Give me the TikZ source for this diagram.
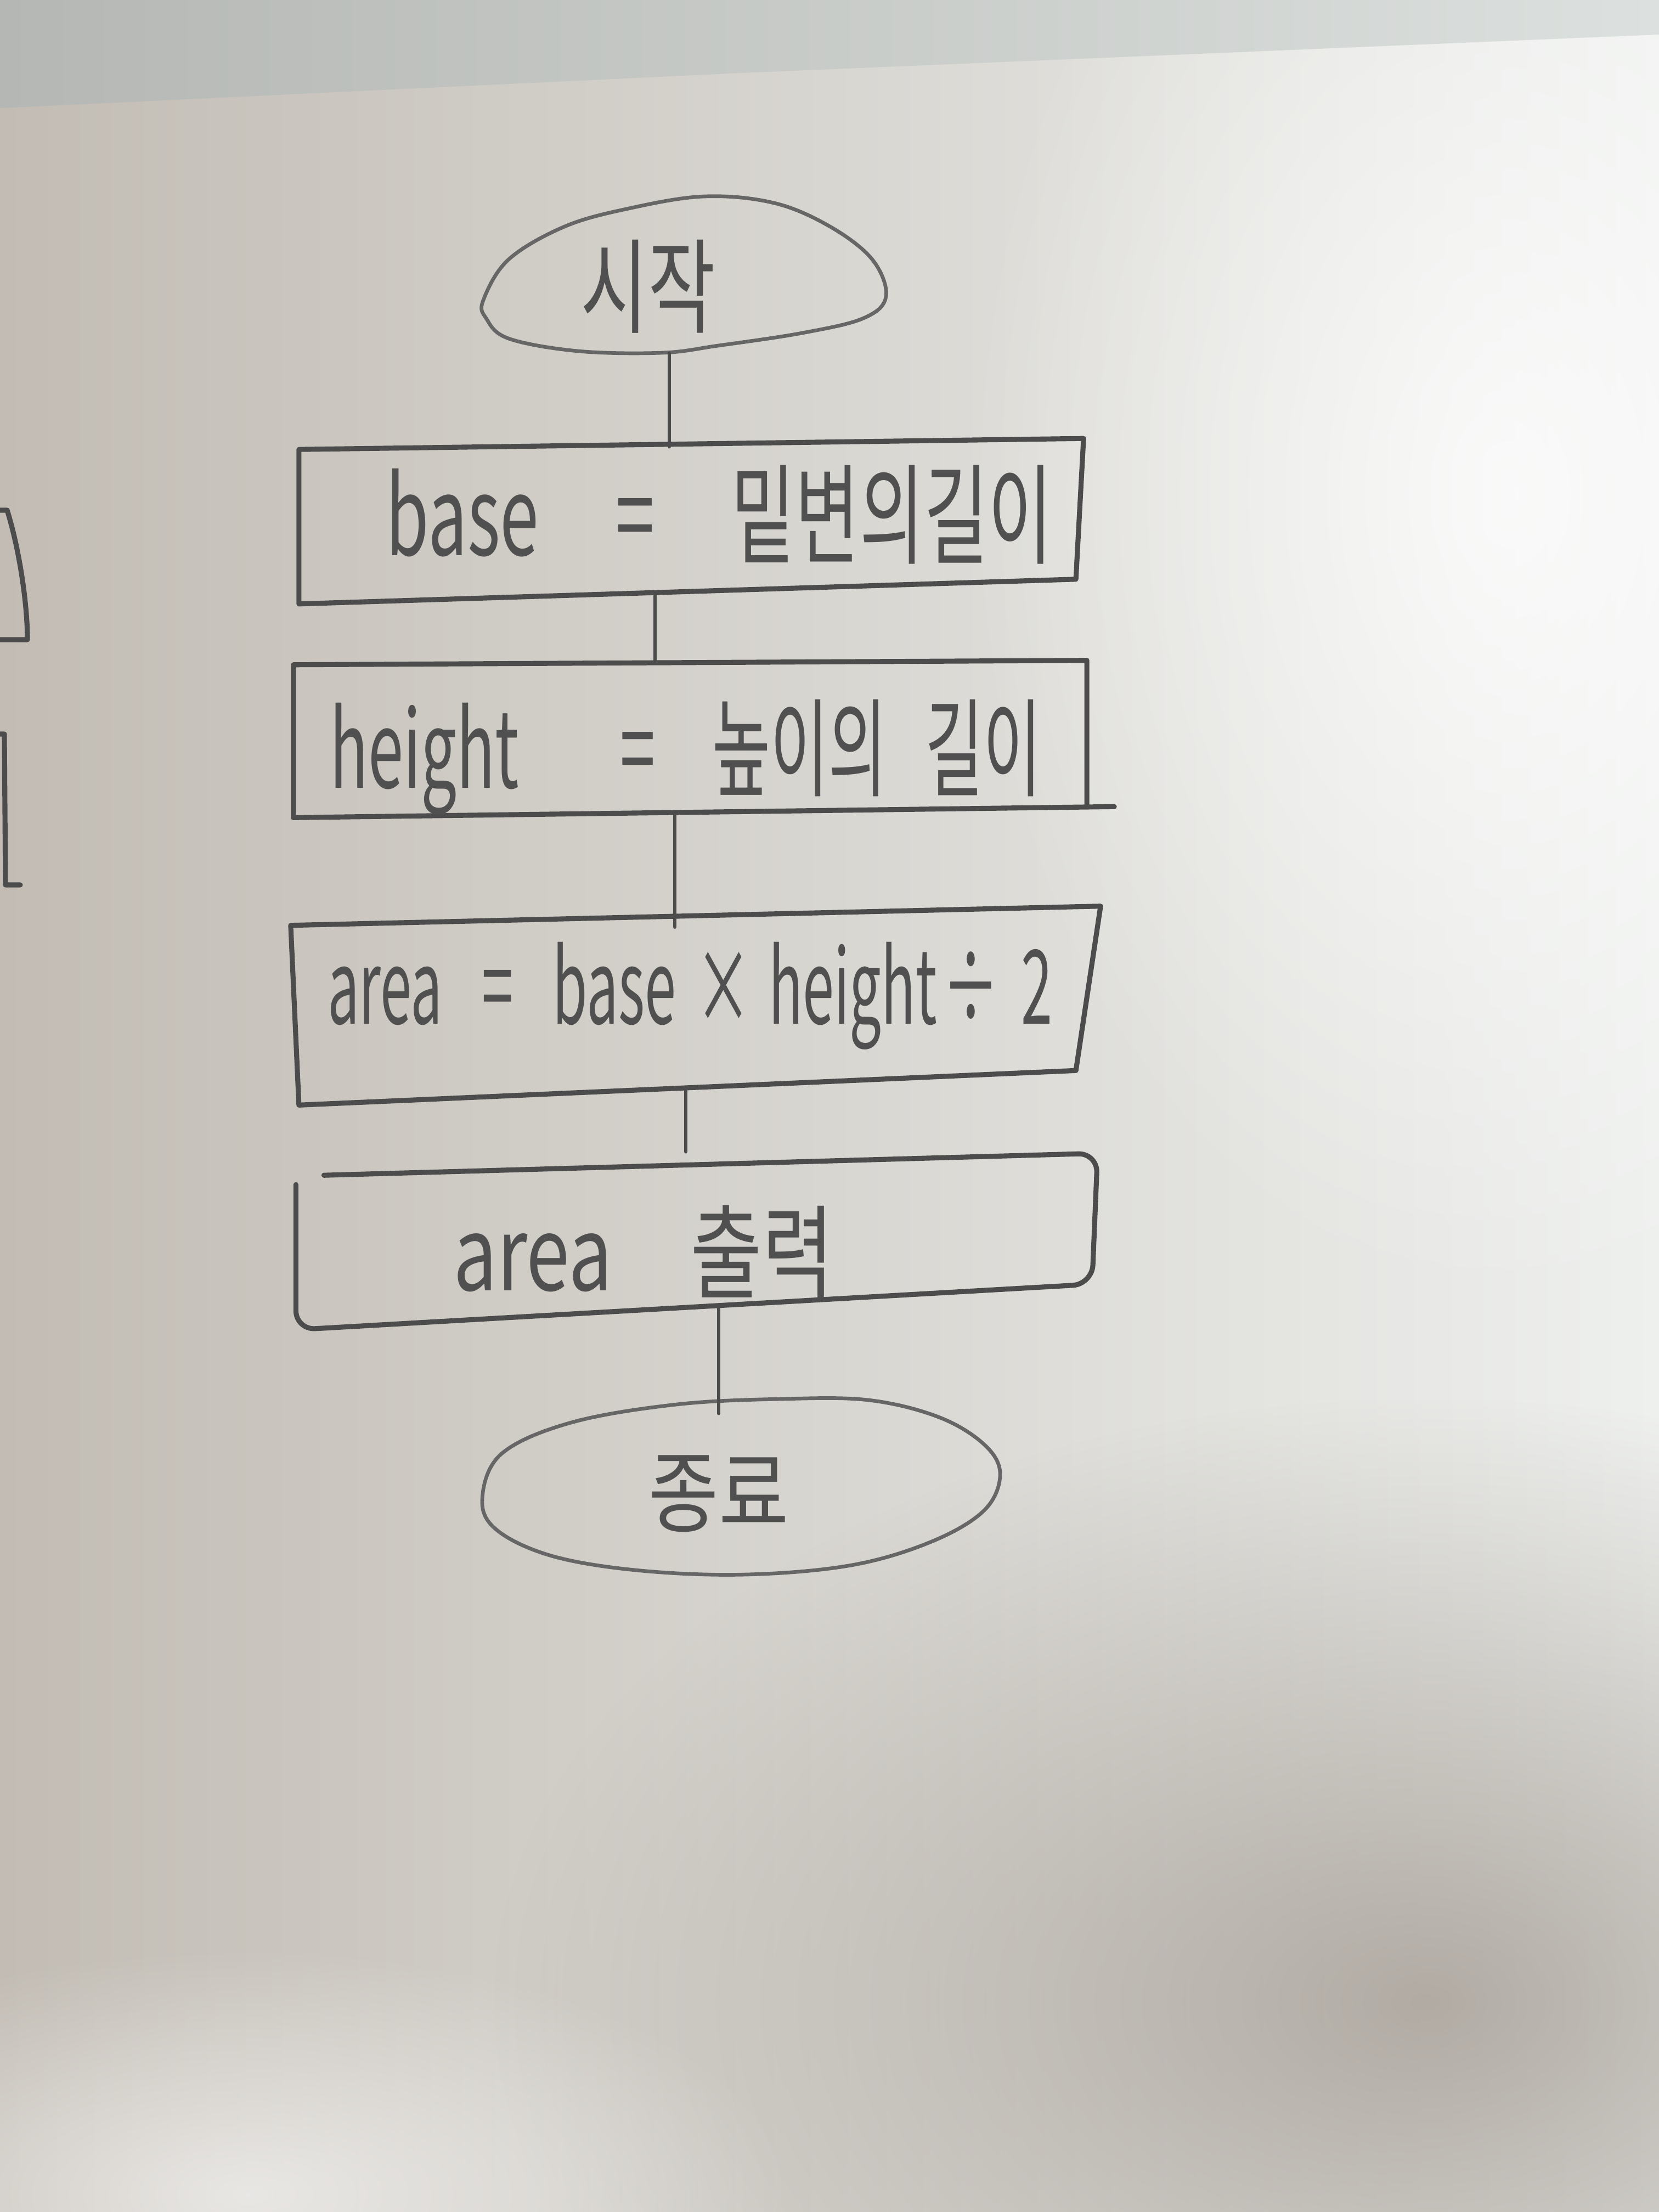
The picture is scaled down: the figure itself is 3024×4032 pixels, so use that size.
\documentclass[tikz,border=0pt]{standalone}
\usepackage{fontspec}
\usepackage{graphicx}
\newfontfamily\kr{Noto Sans CJK KR}
\usetikzlibrary{shapes.geometric,fadings}
\tikzfading[name=softspot, inner color=transparent!0, outer color=transparent!100]
\definecolor{pencil}{HTML}{4C4C4C}
\definecolor{pencilsoft}{HTML}{666666}
\definecolor{pentext}{HTML}{505050}
\definecolor{paperL}{HTML}{C2BCB4}
\definecolor{paperM}{HTML}{D8D6D2}
\definecolor{paperR}{HTML}{EEF0EE}
\definecolor{bandL}{HTML}{B4B7B3}
\definecolor{bandR}{HTML}{DCE0DE}
\definecolor{shadowc}{HTML}{9A9188}
\begin{document}
\begin{tikzpicture}[x=0.01cm,y=-0.01cm,
  boxnode/.style={rectangle, draw=none, inner sep=0pt},
  termnode/.style={ellipse, draw=none, inner sep=0pt},
  outline/.style={draw=pencil, line width=2.6pt, line cap=round, line join=round},
  softline/.style={draw=pencilsoft, line width=1.9pt, line cap=round, line join=round},
  conn/.style={draw=pencil, line width=1.9pt, line cap=round},
  txt/.style={text=pentext, inner sep=0pt, font=\kr}]
\useasboundingbox (0,0) rectangle (3024,4032);
% paper background
\shade[left color=paperL, middle color=paperM, right color=paperR] (0,0) rectangle (3024,4032);
\fill[white, path fading=softspot, opacity=0.75] (2750,900) ellipse [x radius=1000, y radius=1500];
\fill[shadowc, path fading=softspot, opacity=0.7] (2600,3650) ellipse [x radius=1700, y radius=1100];
\fill[white, path fading=softspot, opacity=0.6] (450,4000) ellipse [x radius=1000, y radius=450];
\shade[left color=bandL, right color=bandR] (0,0) -- (3024,0) -- (3024,63) -- (1350,133) -- (0,197) -- cycle;
% partial boxes at the left edge
\draw[outline] (0,930) -- (13,930) .. controls (35,1000) and (50,1100) .. (50,1166) -- (0,1166);
\draw[outline] (0,1338) -- (8,1338) -- (10,1613) -- (37,1613);

% nodes
\node[termnode, minimum width=7.4cm, minimum height=2.86cm] (start) at (1250,500) {};
\node[boxnode, minimum width=14.28cm, minimum height=3.0cm] (b1) at (1260,950) {};
\node[boxnode, minimum width=14.44cm, minimum height=2.85cm] (b2) at (1258,1347) {};
\node[boxnode, minimum width=14.74cm, minimum height=3.63cm] (b3) at (1268,1832) {};
\node[boxnode, minimum width=14.59cm, minimum height=3.2cm] (b4) at (1270,2263) {};
\node[termnode, minimum width=9.44cm, minimum height=3.2cm] (end) at (1351,2710) {};

% outlines
\draw[softline] plot[smooth cycle, tension=0.6] coordinates {(881,547) (927,473) (1029,413) (1146,380) (1284,358) (1411,370) (1513,413) (1590,473) (1615,540) (1574,580) (1462,607) (1309,630) (1207,643) (1054,640) (927,617) (886,580)};
\draw[outline] (b1.south west) -- ([shift={(0,20)}]b1.north west) -- (b1.north east) -- ([shift={(-14,-45)}]b1.south east) -- cycle;
\draw[outline] (b2.south west) -- ([shift={(0,8)}]b2.north west) -- (b2.north east) -- ([shift={(0,-20)}]b2.south east);
\draw[outline] (b2.south west) -- ([shift={(50,-20)}]b2.south east);
\draw[outline] ([shift={(15,0)}]b3.south west) -- ([shift={(0,37)}]b3.north west) -- ([shift={(0,2)}]b3.north east) -- ([shift={(-45,-63)}]b3.south east) -- cycle;
\draw[outline, rounded corners=0.35cm] ([shift={(51,40)}]b4.north west) -- (b4.north east) -- ([shift={(-10,-83)}]b4.south east) -- (b4.south west) -- ([shift={(0,57)}]b4.north west);
\draw[softline] plot[smooth cycle, tension=0.6] coordinates {(879,2733) (914,2650) (1041,2593) (1233,2560) (1424,2550) (1583,2552) (1711,2583) (1794,2633) (1823,2687) (1794,2753) (1698,2810) (1552,2853) (1360,2870) (1169,2863) (1009,2837) (907,2790)};

% texts
\node[txt] (t0) at ([shift={(-69,22)}]start.center) {\resizebox*{2.45cm}{1.7cm}{시작}};
\node[txt] (t1) at ([shift={(51,-12)}]b1.center) {\resizebox*{12.14cm}{1.8cm}{base\hspace{1.1em}=\hspace{1.1em}밑변의길이}};
\node[txt] (t2) at ([shift={(-8,33)}]b2.center) {\resizebox*{12.96cm}{2.1cm}{height\hspace{1.6em}=\hspace{0.9em}높이의\hspace{0.6em}길이}};
\node[txt] (t3) at ([shift={(-10,-17)}]b3.center) {\resizebox*{13.21cm}{1.96cm}{area\hspace{0.7em}=\hspace{0.7em}base\hspace{0.35em}×\hspace{0.3em}height\hspace{0.1em}÷\hspace{0.4em}2}};
\node[txt] (t4) at ([shift={(-97,19)}]b4.center) {\resizebox*{6.93cm}{1.7cm}{area\hspace{1em}출력}};
\node[txt] (t5) at ([shift={(-41,13)}]end.center) {\resizebox*{2.55cm}{1.4cm}{종료}};

% connectors
\draw[conn] ([shift={(-30,0)}]start.south) -- ([shift={(-40,15)}]b1.north);
\draw[conn] ([shift={(-66,-21)}]b1.south) -- ([shift={(-64,4)}]b2.north);
\draw[conn] ([shift={(-28,-9)}]b2.south) -- ([shift={(-38,40)}]b3.north);
\draw[conn] ([shift={(-18,-31)}]b3.south) -- ([shift={(-20,-3)}]b4.north);
\draw[conn] ([shift={(40,-41)}]b4.south) -- ([shift={(-41,27)}]end.north);
\end{tikzpicture}
\end{document}
